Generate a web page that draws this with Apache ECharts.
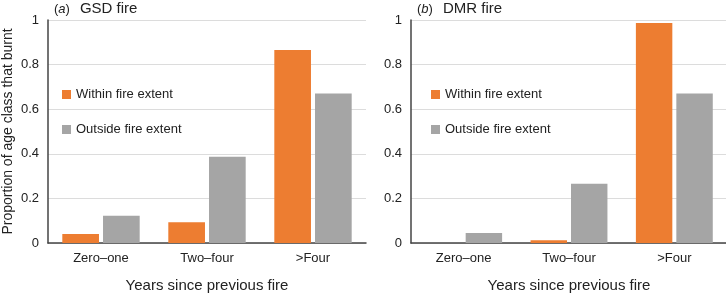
<!DOCTYPE html>
<html>
<head>
<meta charset="utf-8">
<script src="https://cdn.jsdelivr.net/npm/echarts@6/dist/echarts.min.js"></script>
<style>
    html, body { margin:0; padding:0; background:#fff; }
    #chart { width:726px; height:293px; }
</style>
</head>
<body>
<div id="chart"></div>
<script>
const categories = ['Zero\u2013one', 'Two\u2013four', '>Four'];
const gsdWithin = [0.04, 0.093, 0.865];
const gsdOutside = [0.122, 0.387, 0.67];
const dmrWithin = [0, 0.012, 0.987];
const dmrOutside = [0.045, 0.266, 0.67];
const seriesNames = ['Within fire extent', 'Outside fire extent'];
const colors = ['#ED7D31', '#A5A5A5'];

const font = 'Liberation Sans, Arial, Helvetica, sans-serif';
const myChart = echarts.init(document.getElementById('chart'));

// one panel = grid + axes + legend + title, built the same way twice
function axisX(idx) {
    return {
        type:'category',
        gridIndex:idx,
        data:categories,
        axisTick:{ show:false },
        axisLine:{ lineStyle:{ color:'#444', width:1.5 } },
        axisLabel:{ fontFamily:font, fontSize:13, color:'#222', margin:9 },
        name:'Years since previous fire',
        nameLocation:'middle',
        nameGap:35,
        nameTextStyle:{ fontFamily:font, fontSize:15, color:'#222' }
    };
}
function axisY(idx, withName) {
    return {
        type:'value',
        gridIndex:idx,
        min:0,
        max:1,
        interval:0.2,
        axisLine:{ show:true, lineStyle:{ color:'#444', width:1.5 } },
        axisTick:{ show:false },
        splitLine:{ lineStyle:{ color:'#dcdcdc' } },
        axisLabel:{ fontFamily:font, fontSize:13, color:'#222', margin:9 },
        name:withName ? 'Proportion of age class that burnt' : '',
        nameLocation:'middle',
        nameGap:33,
        nameTextStyle:{ fontFamily:font, fontSize:14, color:'#222' }
    };
}
function bars(name, data, idx, color) {
    return {
        type:'bar',
        name:name,
        xAxisIndex:idx,
        yAxisIndex:idx,
        data:data,
        barCategoryGap:'27%',
        barGap:'11%',
        itemStyle:{ color:color },
        silent:true
    };
}
function legendAt(left) {
    return {
        left:left,
        top:83,
        orient:'vertical',
        itemWidth:9,
        itemHeight:9,
        itemGap:22,
        icon:'rect',
        selectedMode:false,
        data:seriesNames,
        textStyle:{ fontFamily:font, fontSize:13, color:'#222' }
    };
}
function titleAt(left, letter, text) {
    return {
        left:left,
        top:-5,
        text:'{p|(}{i|' + letter + '}{p|)}  {t|' + text + '}',
        textStyle:{
            fontWeight:'normal',
            rich:{
                p:{ fontFamily:font, fontSize:13, color:'#222', fontWeight:'normal' },
                i:{ fontFamily:font, fontSize:13, color:'#222', fontStyle:'italic', fontWeight:'normal' },
                t:{ fontFamily:font, fontSize:15, color:'#222', fontWeight:'normal' }
            }
        }
    };
}

const option = {
    animation:false,
    color:colors,
    title:[ titleAt(49, 'a', 'GSD fire'), titleAt(412, 'b', 'DMR fire') ],
    legend:[ legendAt(57), legendAt(426) ],
    grid:[
        { left:48, right:360, top:20, bottom:50, outerBoundsMode:'none', containLabel:false },
        { left:411, right:-1, top:20, bottom:50, outerBoundsMode:'none', containLabel:false }
    ],
    xAxis:[ axisX(0), axisX(1) ],
    yAxis:[ axisY(0, true), axisY(1, false) ],
    series:[
        bars(seriesNames[0], gsdWithin, 0, colors[0]),
        bars(seriesNames[1], gsdOutside, 0, colors[1]),
        bars(seriesNames[0], dmrWithin, 1, colors[0]),
        bars(seriesNames[1], dmrOutside, 1, colors[1])
    ]
};
myChart.setOption(option);
</script>
</body>
</html>
